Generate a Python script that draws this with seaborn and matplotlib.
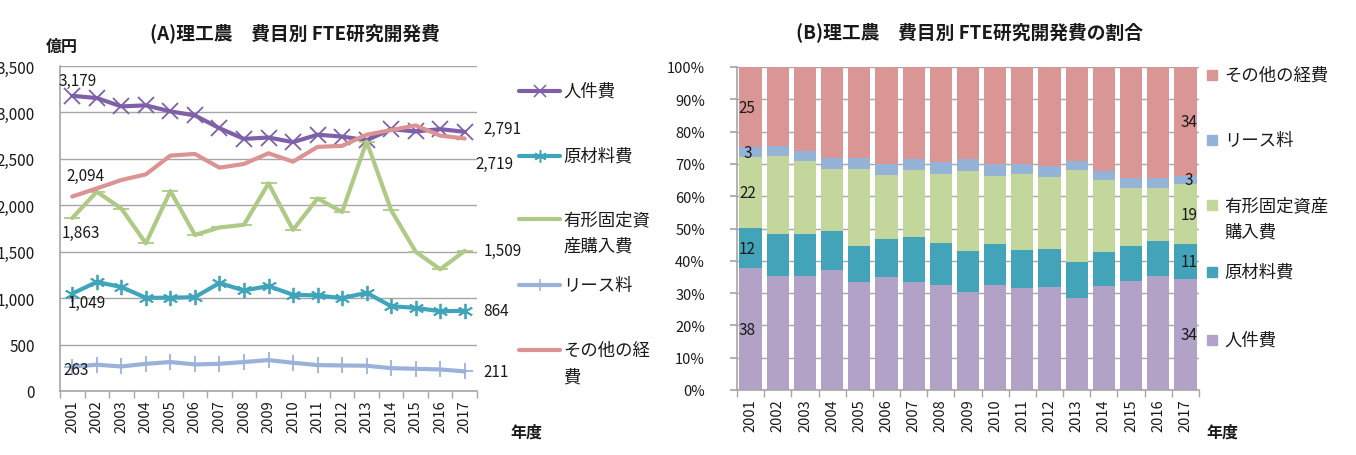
import numpy as np
import pandas as pd
import matplotlib
matplotlib.use("Agg")
import matplotlib.pyplot as plt
from matplotlib.lines import Line2D
from matplotlib.patches import Rectangle
from matplotlib.ticker import FuncFormatter, FixedLocator
import seaborn as sns

sns.set_theme(style="white")
plt.rcParams["font.family"] = ["Noto Sans CJK JP", "DejaVu Sans"]

# ── data (億円) ──────────────────────────────────────────────────────────────
years = [str(y) for y in range(2001, 2018)]
jinken = [3179, 3155, 3065, 3076, 3011, 2968, 2830, 2715, 2730, 2680, 2760, 2740, 2700, 2820, 2795, 2820, 2791]
genzai = [1049, 1174, 1120, 1004, 1004, 1011, 1163, 1083, 1130, 1036, 1029, 1000, 1058, 913, 895, 859, 864]
yukei = [1863, 2146, 1965, 1590, 2153, 1681, 1761, 1790, 2236, 1735, 2074, 1928, 2686, 1947, 1500, 1311, 1509]
lease = [263, 283, 264, 293, 312, 286, 293, 312, 333, 304, 279, 275, 272, 246, 239, 232, 211]
sonota = [2094, 2182, 2272, 2333, 2535, 2553, 2405, 2445, 2560, 2470, 2629, 2640, 2760, 2810, 2860, 2750, 2719]

names = ["人件費", "原材料費", "有形固定資産購入費", "リース料", "その他の経費"]
series = [jinken, genzai, yukei, lease, sonota]

line_colors = ["#7F60A8", "#40A4BA", "#AECA86", "#9AB2DA", "#DC9393"]
bar_colors = ["#B3A2C7", "#42A3B9", "#C3D69B", "#95B3D7", "#D99694"]
markers = ["x", (6, 2, 0), "_", "+", None]

W, H = 1356, 456
fig = plt.figure(figsize=(W / 100, H / 100), dpi=100)
fx = lambda px: px / W
fy = lambda py: 1 - py / H
GRID = "#A6A6A6"
TXT = "#1a1a1a"


def legend_text(x, py, lab):
    # wrapped labels: second line hangs below, handle stays on the first
    lines = lab.split("\n")
    for k, t in enumerate(lines):
        fig.text(fx(x), fy(py + 27 * k), t, ha="left", va="center", fontsize=12.5, color=TXT)


# ── (A) line chart ──────────────────────────────────────────────────────────
ax1 = fig.add_axes([fx(60), fy(392), fx(417), 325 / H])
xpos = np.arange(len(years))
for name, vals, col, mk in zip(names, series, line_colors, markers):
    df = pd.DataFrame({"x": xpos, "v": vals})
    sns.lineplot(data=df, x="x", y="v", ax=ax1, color=col, lw=3,
                 marker=mk, markersize=11, markeredgewidth=1.3,
                 markeredgecolor=col, legend=False)
ax1.set_xlim(-0.5, len(years) - 0.5)
ax1.set_ylim(0, 3500)
ax1.set_yticks(range(0, 3501, 500))
ax1.yaxis.set_major_formatter(FuncFormatter(lambda v, p: f"{int(v):,}"))
ax1.set_xticks(xpos)
ax1.set_xticklabels(years, rotation=90)
ax1.xaxis.set_minor_locator(FixedLocator(np.arange(-0.5, len(years), 1)))
ax1.tick_params(axis="x", which="major", length=0, pad=6, labelsize=10.5, labelcolor=TXT)
ax1.tick_params(axis="x", which="minor", length=5, color=GRID, bottom=True)
ax1.tick_params(axis="y", length=0, pad=18, labelsize=11, labelcolor=TXT)
ax1.grid(axis="y", color=GRID, lw=1)
ax1.set_axisbelow(True)
ax1.set_xlabel("")
ax1.set_ylabel("")
for s in ["top", "right"]:
    ax1.spines[s].set_visible(False)
for s in ["left", "bottom"]:
    ax1.spines[s].set_color(GRID)
    ax1.spines[s].set_linewidth(1.2)

# start/end value labels
start_off = [(5, 15), (14, -9), (9, -14), (4, -3), (13, 21)]
end_off = [(19, 3), (19, 0), (19, 0), (19, 0), (11, -25)]
for vals, so, eo in zip(series, start_off, end_off):
    ax1.annotate(f"{vals[0]:,}", (0, vals[0]), textcoords="offset pixels",
                 xytext=so, ha="center", va="center", fontsize=11, color=TXT)
    ax1.annotate(f"{vals[-1]:,}", (len(years) - 1, vals[-1]), textcoords="offset pixels",
                 xytext=eo, ha="left", va="center", fontsize=11, color=TXT)

fig.text(fx(295), fy(33), "(A)理工農　費目別 FTE研究開発費", ha="center", va="center",
         fontsize=13.5, fontweight="bold", color=TXT)
fig.text(fx(62), fy(47), "億円", ha="center", va="center", fontsize=11.5, fontweight="bold", color=TXT)
fig.text(fx(526), fy(433), "年度", ha="center", va="center", fontsize=11.5, fontweight="bold", color=TXT)

# legend A (drawn by hand so the handle sits on the first text line)
leg_a = [("人件費", 92), ("原材料費", 157), ("有形固定資\n産購入費", 220),
         ("リース料", 286), ("その他の経\n費", 351)]
for (lab, py), col, mk in zip(leg_a, line_colors, markers):
    fig.add_artist(Line2D([fx(519), fx(560)], [fy(py), fy(py)], color=col, lw=3,
                          transform=fig.transFigure))
    if mk is not None and mk != "_":
        fig.add_artist(Line2D([fx(540)], [fy(py)], color=col, marker=mk, markersize=9,
                              markeredgewidth=1.1, markeredgecolor=col, transform=fig.transFigure))
    legend_text(563, py, lab)

# ── (B) 100% stacked bars ───────────────────────────────────────────────────
totals = np.sum(np.array(series, dtype=float), axis=0)
shares = [np.array(v) / totals * 100 for v in series]
cum = np.cumsum(np.array(shares), axis=0)

ax2 = fig.add_axes([fx(737), fy(391), fx(462), 323 / H])
for i in range(len(names) - 1, -1, -1):
    sns.barplot(x=years, y=cum[i], ax=ax2, color=bar_colors[i], saturation=1,
                width=0.82, linewidth=0)
ax2.set_xlim(-0.5, len(years) - 0.5)
ax2.set_ylim(0, 100)
ax2.set_yticks(range(0, 101, 10))
ax2.yaxis.set_major_formatter(FuncFormatter(lambda v, p: f"{int(v)}%"))
ax2.set_xticks(range(len(years)))
ax2.set_xticklabels(years, rotation=90)
ax2.xaxis.set_minor_locator(FixedLocator(np.arange(-0.5, len(years), 1)))
ax2.tick_params(axis="x", which="major", length=0, pad=6, labelsize=10.5, labelcolor=TXT)
ax2.tick_params(axis="x", which="minor", length=5, color=GRID, bottom=True)
ax2.tick_params(axis="y", length=5, color=GRID, left=True, pad=18, labelsize=10.5, labelcolor=TXT)
ax2.grid(axis="y", color=GRID, lw=1)
ax2.set_axisbelow(True)
ax2.set_xlabel("")
ax2.set_ylabel("")
for s in ["top", "right"]:
    ax2.spines[s].set_visible(False)
for s in ["left", "bottom"]:
    ax2.spines[s].set_color(GRID)
    ax2.spines[s].set_linewidth(1.2)

# share labels on first and last bars
for i in range(len(names)):
    lo = cum[i] - shares[i]
    for j, dx in [(0, -0.12), (len(years) - 1, 0.12)]:
        mid = lo[j] + shares[i][j] / 2
        ax2.text(j + dx, mid, f"{shares[i][j]:.0f}", ha="center", va="center",
                 fontsize=11, color=TXT)

fig.text(fx(970), fy(32), "(B)理工農　費目別 FTE研究開発費の割合", ha="center", va="center",
         fontsize=13.5, fontweight="bold", color=TXT)
fig.text(fx(1222), fy(433), "年度", ha="center", va="center", fontsize=11.5, fontweight="bold", color=TXT)

leg_b = [("その他の経費", 76, 4), ("リース料", 141, 3), ("有形固定資産\n購入費", 206, 2),
         ("原材料費", 273, 1), ("人件費", 341, 0)]
for lab, py, ci in leg_b:
    fig.add_artist(Rectangle((fx(1207), fy(py + 5)), fx(10), 10 / H, color=bar_colors[ci],
                             transform=fig.transFigure))
    legend_text(1224, py, lab)

fig.savefig("out.png", dpi=100)
